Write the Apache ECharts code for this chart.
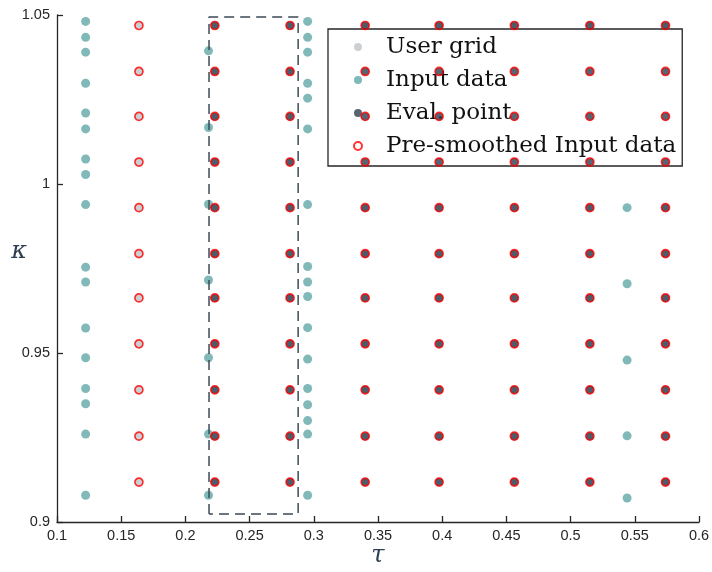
<!DOCTYPE html>
<html>
<head>
<meta charset="utf-8">
<script src="https://cdn.jsdelivr.net/npm/echarts@6/dist/echarts.min.js"></script>
<style>html,body{margin:0;padding:0;background:#fff}#c{width:712px;height:572px}</style>
</head>
<body>
<div id="c"></div>
<script>
// ---- data ----
const gridTau = [0.1638, 0.2229, 0.2815, 0.3400, 0.3976, 0.4562, 0.5150, 0.5739];
const gridKappa = [0.9118, 0.9254, 0.9391, 0.9527, 0.9663, 0.9794, 0.9930, 1.0065, 1.0200, 1.0333, 1.0469];
const evalTau = [0.2229, 0.2815, 0.3400, 0.3976, 0.4562, 0.5150, 0.5739];
const inputTauA = 0.1223;
const inputKappaA = [1.0481, 1.0434, 1.0390, 1.0298, 1.0210, 1.0163, 1.0074, 1.0028, 0.9939, 0.9754, 0.9710, 0.9574, 0.9486, 0.9395, 0.9350, 0.9260, 0.9079];
const inputTauC = 0.2180;
const inputKappaC = [1.0394, 1.0167, 0.9940, 0.9716, 0.9486, 0.9260, 0.9079];
const inputTauF = 0.2952;
const inputKappaF = [1.0481, 1.0434, 1.0390, 1.0298, 1.0254, 1.0163, 0.9939, 0.9756, 0.9710, 0.9667, 0.9575, 0.9482, 0.9395, 0.9347, 0.9300, 0.9260, 0.9079];
const inputTauG = 0.5440;
const inputKappaG = [0.9930, 0.9705, 0.9479, 0.9255, 0.9071];
const rectTau = [0.2184, 0.2878];
const rectKappa = [0.9024, 1.0494];
const xTicks = [0.1, 0.6, 0.05];
const yTicks = [0.9, 1.05, 0.05];

// ---- build ----
function gridPts(taus) {
  const out = [];
  taus.forEach(t => gridKappa.forEach(k => out.push([t, k])));
  return out;
}
const inputPts = [];
[[inputTauA, inputKappaA], [inputTauC, inputKappaC], [inputTauF, inputKappaF], [inputTauG, inputKappaG]]
  .forEach(([t, ks]) => ks.forEach(k => inputPts.push([t, k])));
const rectPts = [
  [rectTau[0], rectKappa[0]], [rectTau[0], rectKappa[1]],
  [rectTau[1], rectKappa[1]], [rectTau[1], rectKappa[0]],
  [rectTau[0], rectKappa[0]]
];

const chart = echarts.init(document.getElementById('c'), null, {renderer: 'canvas'});
const fmt = v => String(parseFloat(v.toFixed(2)));
const axisCol = '#262626';
chart.setOption({
  animation: false,
  backgroundColor: '#fff',
  grid: {left: 57, right: 13, top: 15, bottom: 50, containLabel: false, outerBoundsMode: 'none'},
  xAxis: {
    type: 'value', min: xTicks[0], max: xTicks[1], interval: xTicks[2],
    name: 'τ', nameLocation: 'middle', nameGap: 22, nameMoveOverlap: false,
    nameTextStyle: {fontFamily: 'DejaVu Serif', fontStyle: 'italic', fontSize: 24, color: '#2c3e50'},
    axisLine: {show: true, onZero: false, lineStyle: {color: axisCol, width: 1.3}},
    axisTick: {show: true, inside: true, length: 6, lineStyle: {color: axisCol, width: 1.3}},
    axisLabel: {formatter: fmt, fontFamily: 'Liberation Sans', fontSize: 14.5, color: axisCol, margin: 6},
    splitLine: {show: false}
  },
  yAxis: {
    type: 'value', min: yTicks[0], max: yTicks[1], interval: yTicks[2],
    name: 'κ', nameLocation: 'middle', nameGap: 30, nameRotate: 0, nameMoveOverlap: false,
    nameTextStyle: {fontFamily: 'DejaVu Serif', fontStyle: 'italic', fontSize: 24, color: '#2c3e50', verticalAlign: 'bottom', lineHeight: 34},
    axisLine: {show: true, onZero: false, lineStyle: {color: axisCol, width: 1.3}},
    axisTick: {show: true, inside: true, length: 6, lineStyle: {color: axisCol, width: 1.3}},
    axisLabel: {formatter: fmt, fontFamily: 'Liberation Sans', fontSize: 14.5, color: axisCol, margin: 7},
    splitLine: {show: false}
  },
  legend: {
    orient: 'vertical', left: 328, top: 29,
    backgroundColor: '#fff', borderColor: '#262626', borderWidth: 1.3, borderRadius: 0,
    padding: [6, 6, 8, 25],
    itemWidth: 8, itemHeight: 8, itemGap: 9,
    textStyle: {fontFamily: 'DejaVu Serif', fontSize: 23, lineHeight: 24, color: '#111', padding: [0, 0, 0, 19]},
    data: ['User grid', 'Input data', 'Eval. point', 'Pre-smoothed Input data']
  },
  series: [
    {name: 'User grid', type: 'scatter', symbol: 'circle', symbolSize: 8, data: gridPts(gridTau),
     itemStyle: {color: '#c0c4c8'}, z: 2},
    {name: 'Input data', type: 'scatter', symbol: 'circle', symbolSize: 9, data: inputPts,
     itemStyle: {color: '#62a8a8'}, z: 3},
    {name: 'Eval. point', type: 'scatter', symbol: 'circle', symbolSize: 8, data: gridPts(evalTau),
     itemStyle: {color: '#2e3d4f'}, z: 4},
    {name: 'Pre-smoothed Input data', type: 'scatter', symbol: 'circle', symbolSize: 8, data: gridPts(gridTau),
     itemStyle: {color: 'rgba(0,0,0,0)', borderColor: '#ff0000', borderWidth: 1.7}, z: 5},
    {name: 'rect', type: 'line', data: rectPts, symbol: 'none', silent: true, z: 6,
     lineStyle: {color: '#3d4a57', width: 1.5, type: [10, 6]}}
  ]
});
</script>
</body>
</html>
